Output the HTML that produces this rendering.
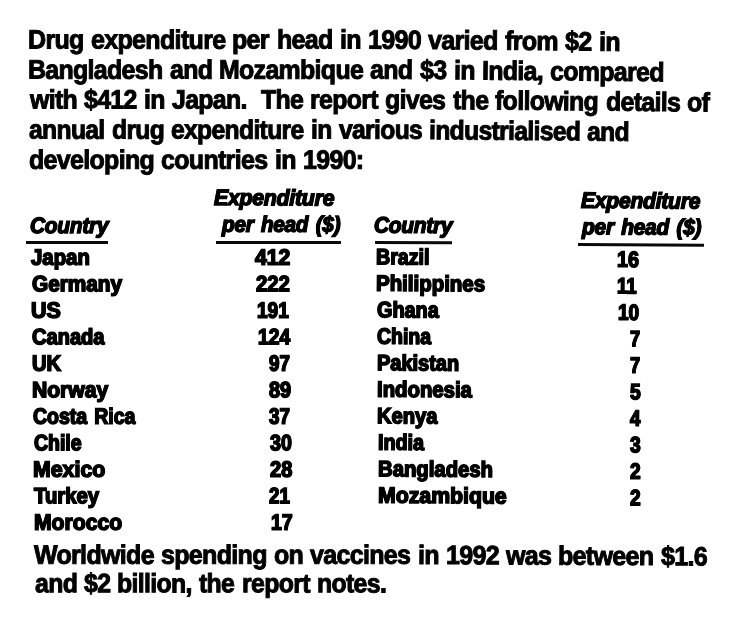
<!DOCTYPE html>
<html lang="en"><head><meta charset="utf-8"><title>Drug expenditure per head</title>
<style>
html,body{margin:0;padding:0;background:#fff;}
body{width:756px;height:620px;position:relative;overflow:hidden;font-family:"Liberation Sans",Arial,sans-serif;color:#000;filter:blur(0.3px);}
p{margin:0;}
.t{position:absolute;white-space:pre;line-height:1;font-weight:bold;margin:0;padding:0;}
.p{font-size:26.6px;word-spacing:1px;letter-spacing:-0.7px;-webkit-text-stroke:1px #000;}
.h{font-size:22.2px;font-style:italic;letter-spacing:-0.2px;word-spacing:2px;-webkit-text-stroke:1.4px #000;text-shadow:0.45px 0 0 #000,-0.45px 0 0 #000;}
.c,.n{font-size:22.2px;letter-spacing:0px;word-spacing:2px;-webkit-text-stroke:1.5px #000;text-shadow:0.5px 0 0 #000,-0.5px 0 0 #000;}
.r{position:absolute;background:#0a0a0a;}
</style></head><body>
<p><span class="t p" style="left:27.73px;top:26px;transform-origin:0 22px;transform:translateY(0.55px) rotate(0.100deg) scaleX(0.9403)">Drug </span><span class="t p" style="left:90.69px;top:26px;transform-origin:0 22px;transform:translateY(0.55px) rotate(0.100deg) scaleX(0.9403)">expenditure </span><span class="t p" style="left:232.44px;top:26px;transform-origin:0 22px;transform:translateY(0.55px) rotate(0.100deg) scaleX(0.9403)">per </span><span class="t p" style="left:276.64px;top:26px;transform-origin:0 22px;transform:translateY(0.55px) rotate(0.100deg) scaleX(0.9403)">head </span><span class="t p" style="left:339.62px;top:26px;transform-origin:0 22px;transform:translateY(0.55px) rotate(0.100deg) scaleX(0.9403)">in </span><span class="t p" style="left:367.78px;top:26px;transform-origin:0 22px;transform:translateY(0.55px) rotate(0.544deg) scaleX(0.9403)">1990 </span><span class="t p" style="left:428.03px;top:27px;transform-origin:0 22px;transform:translateY(0.00px) rotate(0.544deg) scaleX(0.9403)">varied </span><span class="t p" style="left:505.00px;top:27px;transform-origin:0 22px;transform:translateY(0.73px) rotate(0.544deg) scaleX(0.9403)">from </span><span class="t p" style="left:565.19px;top:28px;transform-origin:0 22px;transform:translateY(0.30px) rotate(0.544deg) scaleX(0.9403)">$2 </span><span class="t p" style="left:598.93px;top:28px;transform-origin:0 22px;transform:translateY(0.63px) rotate(0.544deg) scaleX(0.9403)">in</span></p>
<p><span class="t p" style="left:27.93px;top:56px;transform-origin:0 22px;transform:translateY(0.60px) rotate(0.100deg) scaleX(0.9356)">Bangladesh </span><span class="t p" style="left:169.62px;top:56px;transform-origin:0 22px;transform:translateY(0.60px) rotate(0.100deg) scaleX(0.9356)">and </span><span class="t p" style="left:219.10px;top:56px;transform-origin:0 22px;transform:translateY(0.60px) rotate(0.100deg) scaleX(0.9356)">Mozambique </span><span class="t p" style="left:370.44px;top:56px;transform-origin:0 22px;transform:translateY(0.60px) rotate(0.544deg) scaleX(0.9356)">and </span><span class="t p" style="left:419.92px;top:56px;transform-origin:0 22px;transform:translateY(0.97px) rotate(0.544deg) scaleX(0.9356)">$3 </span><span class="t p" style="left:453.50px;top:57px;transform-origin:0 22px;transform:translateY(0.30px) rotate(0.544deg) scaleX(0.9356)">in </span><span class="t p" style="left:481.51px;top:57px;transform-origin:0 22px;transform:translateY(0.57px) rotate(0.544deg) scaleX(0.9356)">India, </span><span class="t p" style="left:549.77px;top:58px;transform-origin:0 22px;transform:translateY(0.22px) rotate(0.544deg) scaleX(0.9356)">compared</span></p>
<p><span class="t p" style="left:29.80px;top:86px;transform-origin:0 22px;transform:translateY(0.40px) rotate(0.100deg) scaleX(0.9340)">with </span><span class="t p" style="left:84.05px;top:86px;transform-origin:0 22px;transform:translateY(0.40px) rotate(0.100deg) scaleX(0.9340)">$412 </span><span class="t p" style="left:143.89px;top:86px;transform-origin:0 22px;transform:translateY(0.40px) rotate(0.100deg) scaleX(0.9340)">in </span><span class="t p" style="left:171.85px;top:86px;transform-origin:0 22px;transform:translateY(0.40px) rotate(0.100deg) scaleX(0.9340)">Japan.  </span><span class="t p" style="left:261.01px;top:86px;transform-origin:0 22px;transform:translateY(0.40px) rotate(0.100deg) scaleX(0.9340)">The </span><span class="t p" style="left:310.41px;top:86px;transform-origin:0 22px;transform:translateY(0.40px) rotate(0.100deg) scaleX(0.9340)">report </span><span class="t p" style="left:385.45px;top:86px;transform-origin:0 22px;transform:translateY(0.46px) rotate(0.544deg) scaleX(0.9340)">gives </span><span class="t p" style="left:452.90px;top:87px;transform-origin:0 22px;transform:translateY(0.09px) rotate(0.544deg) scaleX(0.9340)">the </span><span class="t p" style="left:495.39px;top:87px;transform-origin:0 22px;transform:translateY(0.49px) rotate(0.544deg) scaleX(0.9340)">following </span><span class="t p" style="left:605.69px;top:88px;transform-origin:0 22px;transform:translateY(0.55px) rotate(0.544deg) scaleX(0.9340)">details </span><span class="t p" style="left:687.01px;top:89px;transform-origin:0 22px;transform:translateY(0.32px) rotate(0.544deg) scaleX(0.9340)">of</span></p>
<p><span class="t p" style="left:29.26px;top:116px;transform-origin:0 22px;transform:translateY(0.60px) rotate(0.100deg) scaleX(0.9269)">annual </span><span class="t p" style="left:111.96px;top:116px;transform-origin:0 22px;transform:translateY(0.60px) rotate(0.100deg) scaleX(0.9269)">drug </span><span class="t p" style="left:171.28px;top:116px;transform-origin:0 22px;transform:translateY(0.60px) rotate(0.100deg) scaleX(0.9269)">expenditure </span><span class="t p" style="left:311.00px;top:116px;transform-origin:0 22px;transform:translateY(0.60px) rotate(0.100deg) scaleX(0.9269)">in </span><span class="t p" style="left:338.75px;top:116px;transform-origin:0 22px;transform:translateY(0.60px) rotate(0.100deg) scaleX(0.9269)">various </span><span class="t p" style="left:429.04px;top:117px;transform-origin:0 22px;transform:translateY(0.07px) rotate(0.544deg) scaleX(0.9269)">industrialised </span><span class="t p" style="left:587.36px;top:118px;transform-origin:0 22px;transform:translateY(0.57px) rotate(0.544deg) scaleX(0.9269)">and</span></p>
<p><span class="t p" style="left:28.83px;top:146px;transform-origin:0 22px;transform:translateY(0.70px) rotate(0.100deg) scaleX(0.9381)">developing </span><span class="t p" style="left:161.18px;top:146px;transform-origin:0 22px;transform:translateY(0.70px) rotate(0.100deg) scaleX(0.9381)">countries </span><span class="t p" style="left:274.79px;top:146px;transform-origin:0 22px;transform:translateY(0.70px) rotate(0.100deg) scaleX(0.9381)">in </span><span class="t p" style="left:302.88px;top:146px;transform-origin:0 22px;transform:translateY(0.70px) rotate(0.100deg) scaleX(0.9381)">1990:</span></p>
<p><span class="t p" style="left:33.67px;top:541px;transform-origin:0 22px;transform:translateY(0.70px) rotate(0.100deg) scaleX(0.9390)">Worldwide </span><span class="t p" style="left:160.77px;top:541px;transform-origin:0 22px;transform:translateY(0.70px) rotate(0.100deg) scaleX(0.9390)">spending </span><span class="t p" style="left:273.72px;top:541px;transform-origin:0 22px;transform:translateY(0.70px) rotate(0.100deg) scaleX(0.9390)">on </span><span class="t p" style="left:310.15px;top:541px;transform-origin:0 22px;transform:translateY(0.70px) rotate(0.100deg) scaleX(0.9390)">vaccines </span><span class="t p" style="left:417.64px;top:541px;transform-origin:0 22px;transform:translateY(0.91px) rotate(0.315deg) scaleX(0.9390)">in </span><span class="t p" style="left:445.75px;top:542px;transform-origin:0 22px;transform:translateY(0.06px) rotate(0.315deg) scaleX(0.9390)">1992 </span><span class="t p" style="left:505.92px;top:542px;transform-origin:0 22px;transform:translateY(0.38px) rotate(0.315deg) scaleX(0.9390)">was </span><span class="t p" style="left:558.38px;top:542px;transform-origin:0 22px;transform:translateY(0.68px) rotate(0.315deg) scaleX(0.9390)">between </span><span class="t p" style="left:660.94px;top:543px;transform-origin:0 22px;transform:translateY(0.24px) rotate(0.315deg) scaleX(0.9390)">$1.6</span></p>
<p><span class="t p" style="left:34.67px;top:570px;transform-origin:0 22px;transform:translateY(0.30px) rotate(0.100deg) scaleX(0.9328)">and </span><span class="t p" style="left:84.00px;top:570px;transform-origin:0 22px;transform:translateY(0.30px) rotate(0.100deg) scaleX(0.9328)">$2 </span><span class="t p" style="left:117.48px;top:570px;transform-origin:0 22px;transform:translateY(0.30px) rotate(0.100deg) scaleX(0.9328)">billion, </span><span class="t p" style="left:199.36px;top:570px;transform-origin:0 22px;transform:translateY(0.30px) rotate(0.100deg) scaleX(0.9328)">the </span><span class="t p" style="left:241.80px;top:570px;transform-origin:0 22px;transform:translateY(0.30px) rotate(0.100deg) scaleX(0.9328)">report </span><span class="t p" style="left:316.74px;top:570px;transform-origin:0 22px;transform:translateY(0.30px) rotate(0.100deg) scaleX(0.9328)">notes.</span></p>
<div class="t h" style="left:214.30px;top:186px;transform-origin:0 18px;transform:translateY(0.90px) rotate(0.300deg) scaleX(0.9540)">Expenditure</div>
<div class="t h" style="left:29.74px;top:214px;transform-origin:0 18px;transform:translateY(0.90px) rotate(0.100deg) scaleX(0.9365)">Country</div>
<div class="t h" style="left:221.80px;top:213px;transform-origin:0 18px;transform:translateY(0.70px) rotate(0.100deg) scaleX(0.9289)">per head ($)</div>
<div class="t h" style="left:373.84px;top:214px;transform-origin:0 18px;transform:translateY(0.60px) rotate(0.300deg) scaleX(0.9365)">Country</div>
<div class="t h" style="left:581.49px;top:189px;transform-origin:0 18px;transform:translateY(0.70px) rotate(0.450deg) scaleX(0.9455)">Expenditure</div>
<div class="t h" style="left:581.91px;top:216px;transform-origin:0 18px;transform:translateY(0.20px) rotate(0.300deg) scaleX(0.9366)">per head ($)</div>
<div class="t c" style="left:31.35px;top:246px;transform-origin:0 18px;transform:translateY(0.65px) rotate(0.100deg) scaleX(0.9172)">Japan</div>
<div class="t c" style="left:31.70px;top:273px;transform-origin:0 18px;transform:translateY(0.15px) rotate(0.100deg) scaleX(0.9357)">Germany</div>
<div class="t c" style="left:31.10px;top:299px;transform-origin:0 18px;transform:translateY(0.65px) rotate(0.100deg) scaleX(0.9639)">US</div>
<div class="t c" style="left:32.32px;top:326px;transform-origin:0 18px;transform:translateY(0.15px) rotate(0.100deg) scaleX(0.9039)">Canada</div>
<div class="t c" style="left:31.75px;top:352px;transform-origin:0 18px;transform:translateY(0.65px) rotate(0.100deg) scaleX(0.9092)">UK</div>
<div class="t c" style="left:32.09px;top:379px;transform-origin:0 18px;transform:translateY(0.15px) rotate(0.100deg) scaleX(0.9494)">Norway</div>
<div class="t c" style="left:33.28px;top:405px;transform-origin:0 18px;transform:translateY(0.65px) rotate(0.100deg) scaleX(0.8771)">Costa Rica</div>
<div class="t c" style="left:33.61px;top:432px;transform-origin:0 18px;transform:translateY(0.15px) rotate(0.100deg) scaleX(0.8773)">Chile</div>
<div class="t c" style="left:33.08px;top:458px;transform-origin:0 18px;transform:translateY(0.65px) rotate(0.100deg) scaleX(0.9605)">Mexico</div>
<div class="t c" style="left:34.32px;top:485px;transform-origin:0 18px;transform:translateY(0.15px) rotate(0.100deg) scaleX(0.9165)">Turkey</div>
<div class="t c" style="left:33.74px;top:511px;transform-origin:0 18px;transform:translateY(0.65px) rotate(0.100deg) scaleX(0.9527)">Morocco</div>
<div class="t n" style="left:254.89px;top:246px;transform-origin:0 18px;transform:translateY(0.65px) rotate(0.100deg) scaleX(0.9517)">412</div>
<div class="t n" style="left:256.34px;top:273px;transform-origin:0 18px;transform:translateY(0.15px) rotate(0.100deg) scaleX(0.9135)">222</div>
<div class="t n" style="left:257.21px;top:299px;transform-origin:0 18px;transform:translateY(0.65px) rotate(0.100deg) scaleX(0.8562)">191</div>
<div class="t n" style="left:258.22px;top:326px;transform-origin:0 18px;transform:translateY(0.15px) rotate(0.100deg) scaleX(0.8675)">124</div>
<div class="t n" style="left:269.06px;top:352px;transform-origin:0 18px;transform:translateY(0.65px) rotate(0.100deg) scaleX(0.8455)">97</div>
<div class="t n" style="left:269.12px;top:379px;transform-origin:0 18px;transform:translateY(0.15px) rotate(0.100deg) scaleX(0.8939)">89</div>
<div class="t n" style="left:269.06px;top:405px;transform-origin:0 18px;transform:translateY(0.65px) rotate(0.100deg) scaleX(0.8455)">37</div>
<div class="t n" style="left:269.86px;top:432px;transform-origin:0 18px;transform:translateY(0.15px) rotate(0.100deg) scaleX(0.8846)">30</div>
<div class="t n" style="left:269.88px;top:458px;transform-origin:0 18px;transform:translateY(0.65px) rotate(0.100deg) scaleX(0.9032)">28</div>
<div class="t n" style="left:269.36px;top:485px;transform-origin:0 18px;transform:translateY(0.15px) rotate(0.100deg) scaleX(0.8455)">21</div>
<div class="t n" style="left:270.92px;top:511px;transform-origin:0 18px;transform:translateY(0.65px) rotate(0.100deg) scaleX(0.8782)">17</div>
<div class="t c" style="left:375.52px;top:246px;transform-origin:0 18px;transform:translateY(0.25px) rotate(0.350deg) scaleX(0.8838)">Brazil</div>
<div class="t c" style="left:375.85px;top:272px;transform-origin:0 18px;transform:translateY(0.75px) rotate(0.350deg) scaleX(0.9214)">Philippines</div>
<div class="t c" style="left:377.06px;top:299px;transform-origin:0 18px;transform:translateY(0.25px) rotate(0.350deg) scaleX(0.8941)">Ghana</div>
<div class="t c" style="left:377.35px;top:325px;transform-origin:0 18px;transform:translateY(0.75px) rotate(0.350deg) scaleX(0.8756)">China</div>
<div class="t c" style="left:376.80px;top:352px;transform-origin:0 18px;transform:translateY(0.25px) rotate(0.350deg) scaleX(0.8992)">Pakistan</div>
<div class="t c" style="left:377.13px;top:378px;transform-origin:0 18px;transform:translateY(0.75px) rotate(0.350deg) scaleX(0.9161)">Indonesia</div>
<div class="t c" style="left:377.45px;top:405px;transform-origin:0 18px;transform:translateY(0.25px) rotate(0.350deg) scaleX(0.9056)">Kenya</div>
<div class="t c" style="left:377.76px;top:431px;transform-origin:0 18px;transform:translateY(0.75px) rotate(0.350deg) scaleX(0.8891)">India</div>
<div class="t c" style="left:378.09px;top:458px;transform-origin:0 18px;transform:translateY(0.25px) rotate(0.350deg) scaleX(0.9146)">Bangladesh</div>
<div class="t c" style="left:378.42px;top:484px;transform-origin:0 18px;transform:translateY(0.75px) rotate(0.350deg) scaleX(0.9578)">Mozambique</div>
<div class="t n" style="left:616.72px;top:248px;transform-origin:0 18px;transform:translateY(0.85px) rotate(0.400deg) scaleX(0.8898)">16</div>
<div class="t n" style="left:617.11px;top:275px;transform-origin:0 18px;transform:translateY(0.35px) rotate(0.400deg) scaleX(0.8364)">11</div>
<div class="t n" style="left:618.21px;top:301px;transform-origin:0 18px;transform:translateY(0.85px) rotate(0.400deg) scaleX(0.8511)">10</div>
<div class="t n" style="left:629.76px;top:328px;transform-origin:0 18px;transform:translateY(0.35px) rotate(0.400deg) scaleX(0.8101)">7</div>
<div class="t n" style="left:629.76px;top:354px;transform-origin:0 18px;transform:translateY(0.85px) rotate(0.400deg) scaleX(0.8101)">7</div>
<div class="t n" style="left:629.83px;top:381px;transform-origin:0 18px;transform:translateY(0.35px) rotate(0.400deg) scaleX(0.8618)">5</div>
<div class="t n" style="left:629.55px;top:407px;transform-origin:0 18px;transform:translateY(0.85px) rotate(0.400deg) scaleX(0.8385)">4</div>
<div class="t n" style="left:629.83px;top:434px;transform-origin:0 18px;transform:translateY(0.35px) rotate(0.400deg) scaleX(0.8618)">3</div>
<div class="t n" style="left:630.07px;top:460px;transform-origin:0 18px;transform:translateY(0.85px) rotate(0.400deg) scaleX(0.8549)">2</div>
<div class="t n" style="left:630.07px;top:487px;transform-origin:0 18px;transform:translateY(0.35px) rotate(0.400deg) scaleX(0.8549)">2</div>
<div class="r" style="left:26.40px;top:241.40px;width:81.30px;height:3.00px;"></div>
<div class="r" style="left:216.00px;top:241.20px;width:125.00px;height:3.00px;"></div>
<div class="r" style="left:375.00px;top:240.90px;width:76.80px;height:3.00px; transform-origin:0 50%;transform:rotate(0.20deg);"></div>
<div class="r" style="left:577.70px;top:242.90px;width:126.10px;height:3.00px; transform-origin:0 50%;transform:rotate(0.30deg);"></div>
</body></html>
